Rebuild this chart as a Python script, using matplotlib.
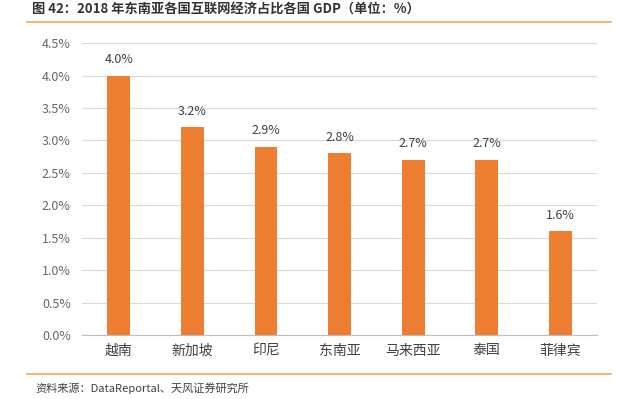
import matplotlib
matplotlib.use("Agg")
import matplotlib.pyplot as plt
from matplotlib.lines import Line2D
from matplotlib.ticker import FuncFormatter

plt.rcParams["font.family"] = ["Noto Sans CJK SC", "DejaVu Sans"]

countries = ["越南", "新加坡", "印尼", "东南亚", "马来西亚", "泰国", "菲律宾"]
shares = [4.0, 3.2, 2.9, 2.8, 2.7, 2.7, 1.6]
yticks = [0.0, 0.5, 1.0, 1.5, 2.0, 2.5, 3.0, 3.5, 4.0, 4.5]

title = "图 42：2018 年东南亚各国互联网经济占比各国 GDP（单位：%）"
source = "资料来源：DataReportal、天风证券研究所"

fig = plt.figure(figsize=(6.4, 3.99), dpi=100)
ax = fig.add_axes([0.128, 0.160, 0.805, 0.732])

x = range(len(countries))
ax.bar(x, shares, width=0.31, color="#ED7D31", zorder=3)
for xi, v in zip(x, shares):
    ax.text(xi, v + 0.15, f"{v:.1f}%", ha="center", va="bottom",
            fontsize=9, color="#404040")

ax.set_xlim(-0.5, len(countries) - 0.5)
ax.set_ylim(0, 4.5)
ax.set_yticks(yticks)
ax.yaxis.set_major_formatter(FuncFormatter(lambda v, _: f"{v:.1f}%"))
ax.set_xticks(list(x))
ax.set_xticklabels(countries, fontsize=10, color="#404040")
ax.tick_params(axis="y", labelsize=9, labelcolor="#666666", length=0, pad=8)
ax.tick_params(axis="x", length=0, pad=6)
ax.grid(axis="y", color="#D9D9D9", linewidth=0.8, zorder=0)
for s in ["top", "right", "left"]:
    ax.spines[s].set_visible(False)
ax.spines["bottom"].set_color("#BFBFBF")

fig.text(0.05, 0.975, title, fontsize=9.5, fontweight="bold",
         color="#333333", va="center", ha="left")
fig.text(0.055, 0.028, source, fontsize=8, color="#404040",
         va="center", ha="left")
fig.add_artist(Line2D([0.042, 0.955], [0.945, 0.945], color="#F4A460",
                      linewidth=1.2, transform=fig.transFigure))
fig.add_artist(Line2D([0.042, 0.955], [0.062, 0.062], color="#F4A460",
                      linewidth=1.2, transform=fig.transFigure))

fig.savefig("out.png", dpi=100)
